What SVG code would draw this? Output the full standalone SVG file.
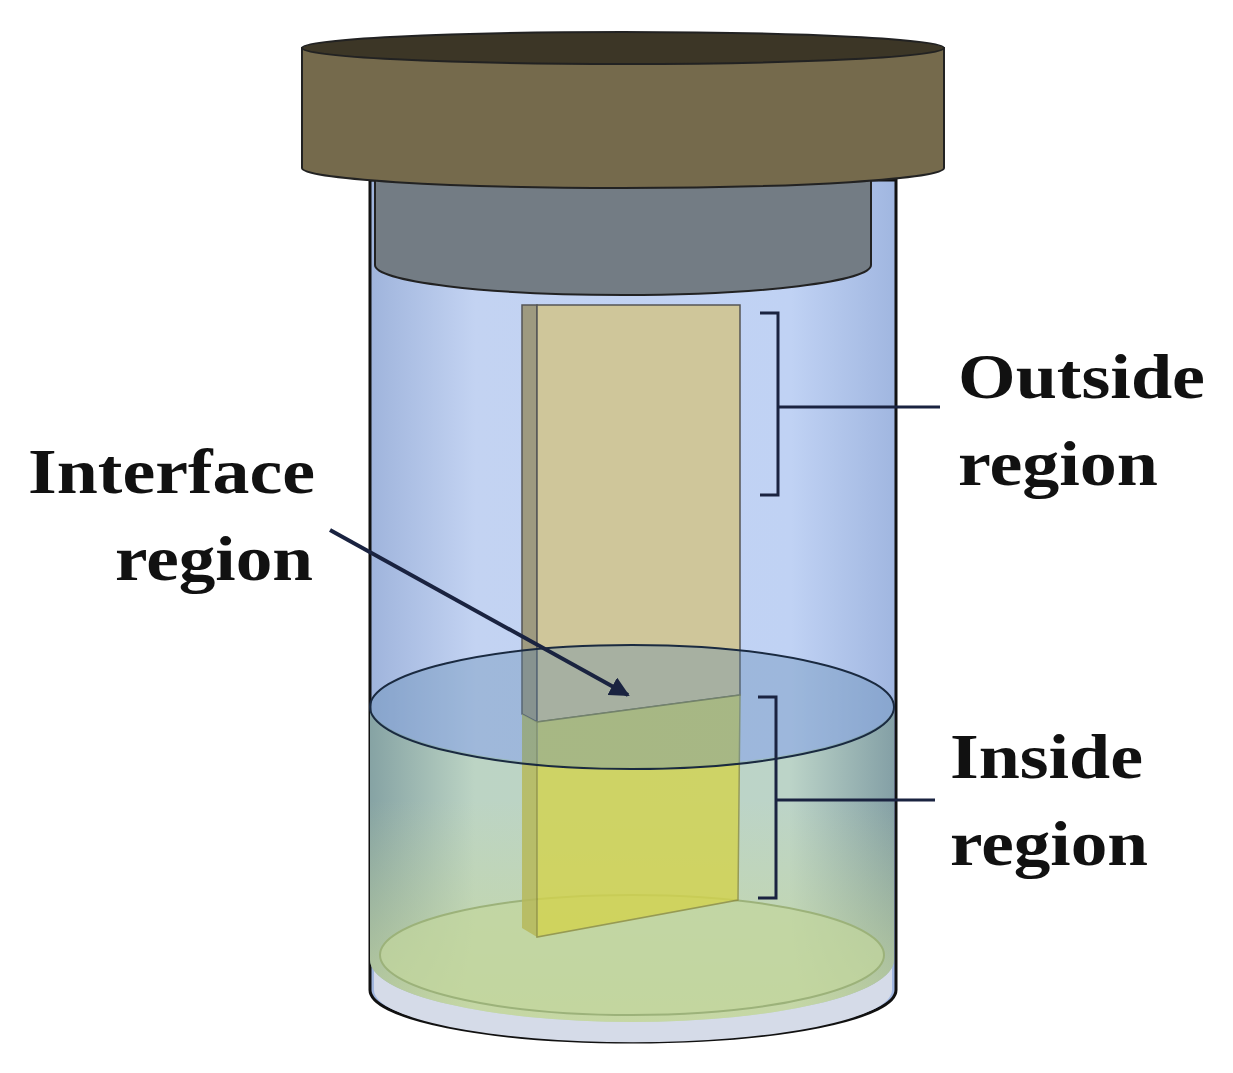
<svg xmlns="http://www.w3.org/2000/svg" width="1233" height="1073" viewBox="0 0 1233 1073">
<defs>
<style>
.t{font-family:"Liberation Serif",serif;font-weight:bold;font-size:64px;fill:#111}
.k{fill:none;stroke:#1a2340;stroke-width:3}
</style>
<linearGradient id="jar" x1="0" x2="1"><stop offset="0" stop-color="#9fb4dc"/><stop offset="0.2" stop-color="#c3d3f2"/><stop offset="0.8" stop-color="#c0d2f4"/><stop offset="1" stop-color="#a0b6e0"/></linearGradient>
<linearGradient id="liq" x1="0" x2="1"><stop offset="0" stop-color="#86a3a4"/><stop offset="0.2" stop-color="#bcd4c4"/><stop offset="0.8" stop-color="#bcd4c8"/><stop offset="1" stop-color="#84a0a6"/></linearGradient>
<linearGradient id="liqv" x1="0" y1="0" x2="0" y2="1"><stop offset="0" stop-color="#c8d89a" stop-opacity="0"/><stop offset="1" stop-color="#c8d89a" stop-opacity="0.8"/></linearGradient>
<marker id="ar" viewBox="0 0 10 10" refX="9" refY="5" markerWidth="5" markerHeight="5" orient="auto"><path d="M0,0L10,5L0,10z" fill="#1a2340"/></marker>
</defs>
<rect width="1233" height="1073" fill="#fff"/>
<g id="jar">
<path d="M370,180 L370,990 A263,52 0 0 0 896,990 L896,180 Z" fill="url(#jar)" stroke="#111" stroke-width="3"/>
<path d="M374,960 A258,58 0 0 0 892,960 L892,990 A258,52 0 0 1 374,990Z" fill="#d5dbe8" stroke="none"/>
</g>
<g id="liquid">
<path d="M370,705 L370,960 A262,62 0 0 0 894,960 L894,705 A262,62 0 0 1 370,705 Z" fill="url(#liq)"/>
<path d="M370,800 L370,960 A262,62 0 0 0 894,960 L894,800 Z" fill="url(#liqv)"/>
<ellipse cx="632" cy="955" rx="252" ry="60" fill="#c2d59c" fill-opacity="0.7" stroke="#9cb27a" stroke-width="2"/>
</g>
<g id="plug">
<path d="M375,180 L375,265 A248,30 0 0 0 871,265 L871,180 Z" fill="#737c84" stroke="#222" stroke-width="2"/>
</g>
<g id="lid">
<path d="M302,48 L302,168 A321,20 0 0 0 944,168 L944,48 Z" fill="#756a4c" stroke="#222" stroke-width="2"/>
<ellipse cx="623" cy="48" rx="321" ry="16" fill="#3c3626" stroke="#222" stroke-width="2"/>
</g>
<g id="strip">
<path d="M522,305 L537,305 L537,722 L522,714 Z" fill="#9e9a80" stroke="#555" stroke-width="1.5"/>
<path d="M537,305 L740,305 L740,695 L537,722 Z" fill="#cfc69a" stroke="#555" stroke-width="1.5"/>
<path d="M522,714 L537,722 L537,937 L522,928 Z" fill="#b6b85a" opacity="0.85"/>
<path d="M537,722 L740,695 L738,900 L537,937 Z" fill="#d3d34e" opacity="0.8" stroke="#8c8c40" stroke-width="1.5"/>
</g>
<g id="surface">
<ellipse cx="632" cy="707" rx="262" ry="62" fill="#5d86b0" fill-opacity="0.35" stroke="#1a2a40" stroke-width="2"/>
</g>
<g id="connectors">
<path class="k" d="M760,313 H778 V495 H760 M778,407 H940"/>
<path class="k" d="M758,697 H776 V898 H758 M776,800 H935"/>
<line x1="330" y1="530" x2="628" y2="695" stroke="#1a2340" stroke-width="4" marker-end="url(#ar)"/>
</g>
<g id="labels">
<text class="t" x="958" y="398" textLength="247" lengthAdjust="spacingAndGlyphs">Outside</text>
<text class="t" x="958" y="485" textLength="200" lengthAdjust="spacingAndGlyphs">region</text>
<text class="t" x="28" y="493" textLength="287" lengthAdjust="spacingAndGlyphs">Interface</text>
<text class="t" x="115" y="580" textLength="198" lengthAdjust="spacingAndGlyphs">region</text>
<text class="t" x="950" y="778" textLength="193" lengthAdjust="spacingAndGlyphs">Inside</text>
<text class="t" x="950" y="865" textLength="198" lengthAdjust="spacingAndGlyphs">region</text>
</g>
</svg>
